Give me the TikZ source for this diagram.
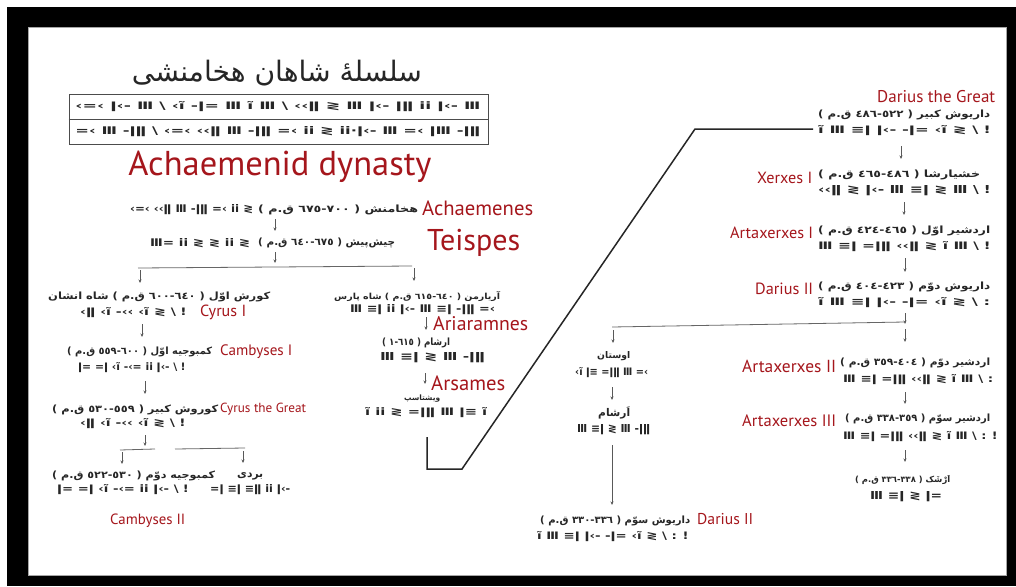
\documentclass[tikz,border=0pt]{standalone}
\usepackage{fontspec}
\usepackage{graphicx}
\usetikzlibrary{arrows.meta}
\TeXXeTstate=1
\setmainfont{PT Sans}
\newfontfamily\fafont[Script=Arabic]{DejaVu Sans}
\newfontfamily\cufont{DejaVu Sans}
\definecolor{lblred}{HTML}{A5161C}
\newcommand\FA[2]{\resizebox*{#1pt}{10pt}{\fafont\bfseries #2}}
\newcommand\FW[2]{\resizebox{#1pt}{!}{\fafont\bfseries #2}}
\newcommand\CU[2]{\resizebox{#1pt}{8pt}{\cufont\bfseries #2}}
\newcommand\LB[2]{\resizebox{#1pt}{!}{#2}}
\newcommand\bs{\textbackslash}
\newcommand\tk[4]{\coordinate (#1a) at (#2,#3); \coordinate (#1b) at (#2,#4); \draw[tick] (#1a) -- (#1b);}
\begin{document}
\begin{tikzpicture}[x=1pt,y=-1pt,
  lbl/.style={text=lblred,inner sep=0pt},
  txt/.style={inner sep=0pt,text=black!85},
  tick/.style={draw=black!65,line width=0.7pt,-{Stealth[length=3.5pt,width=3pt]}},
  rulel/.style={draw=black!60,line width=0.8pt},
  bigline/.style={draw=black!85,line width=1.5pt}]
\useasboundingbox (0,0) rectangle (1016,586);
\fill[black] (7,7) rectangle (1016,586);
\fill[white] (28,28) rectangle (1006,575);
\draw[black!35,line width=1pt] (28,28) rectangle (1006,575);

% title and table
\node[txt] (title) at (277,73) {\resizebox{290pt}{!}{\fafont\beginR سلسلهٔ شاهان هخامنشی\endR}};
\node[draw=black!70,line width=0.9pt,minimum width=419pt,minimum height=50pt,inner sep=0pt] (tab) at (278.5,119) {};
\draw[black!70,line width=0.9pt] (tab.west) -- (tab.east);
\node[txt] (tr1) at (278,106.5) {\CU{405}{‹=‹ ǀ‹- Ⅲ \bs{} ‹ĩ -ǀ= Ⅲ ĩ Ⅲ \bs{} ‹‹ǁ ≷ Ⅲ ǀ‹- ǀǁ ii ǀ‹- Ⅲ}};
\node[txt] (tr2) at (278,131.5) {\CU{405}{=‹ Ⅲ -ǀǁ \bs{} ‹=‹ ‹‹ǁ Ⅲ -ǀǁ =‹ ii ≷ ii·ǀ‹- Ⅲ =‹ ǀⅢ -ǀǁ}};
\node[lbl] (dyn) at (280,167) {\LB{303}{Achaemenid dynasty}};

% Achaemenes, Teispes
\node[txt,anchor=west] (c-ach) at (130,210) {\CU{123}{‹=‹ ‹‹ǁ Ⅲ -ǀǁ =‹ ii ≷}};
\node[txt,anchor=west] (p-ach) at (258,210) {\FA{160}{\beginR هخامنش ( ٧٠٠-٦٧٥ ق.م )\endR}};
\node[lbl,anchor=west] (l-ach) at (422,208) {\LB{111}{Achaemenes}};
\tk{t1}{275}{219}{231}
\node[txt,anchor=west] (c-tei) at (150,243) {\CU{100}{Ⅲ= ii ≷ ≷ ii ≷}};
\node[txt,anchor=west] (p-tei) at (258,243) {\FA{137}{\beginR چیش^^^^200cپیش ( ٦٧٥-٦٤٠ ق.م )\endR}};
\node[lbl,anchor=west] (l-tei) at (427,243) {\LB{93}{Teispes}};
\tk{t2}{275}{252}{263}
\coordinate (h1a) at (138,268); \coordinate (h1b) at (412,266);
\draw[rulel] (h1a) -- (h1b);
\tk{t3}{140}{270}{283}
\tk{t4}{414}{268}{281}

% left branch
\node[txt,anchor=west] (p-cy1) at (48,297) {\FA{222}{\beginR کورش اوّل ( ٦٤٠-٦٠٠ ق.م ) شاه انشان\endR}};
\node[txt,anchor=west] (c-cy1) at (80,313) {\CU{106}{‹ǁ ‹ĩ -‹‹ ‹ĩ ≷ \bs{} ǃ}};
\node[lbl,anchor=west] (l-cy1) at (200,312) {\LB{46}{Cyrus I}};
\tk{t5}{142}{324}{337}
\node[txt,anchor=west] (p-cb1) at (67,352) {\FA{145}{\beginR کمبوجیه اوّل ( ٦٠٠-٥٥٩ ق.م )\endR}};
\node[lbl,anchor=west] (l-cb1) at (220,352) {\LB{72}{Cambyses I}};
\node[txt,anchor=west] (c-cb1) at (78,368) {\CU{107}{ǀ= =ǀ ‹ĩ -‹= ii ǀ‹- \bs{} ǃ}};
\tk{t6}{145}{381}{394}
\node[txt,anchor=west] (p-cyg) at (52,410) {\FA{166}{\beginR کوروش کبیر ( ٥٥٩-٥٣٠ ق.م )\endR}};
\node[lbl,anchor=west] (l-cyg) at (220,409) {\LB{86}{Cyrus the Great}};
\node[txt,anchor=west] (c-cyg) at (80,424) {\CU{105}{‹ǁ ‹ĩ -‹‹ ‹ĩ ≷ \bs{} ǃ}};
\tk{t7}{145}{435}{446}
\coordinate (h2a) at (120,450); \coordinate (h2b) at (155,449);
\coordinate (h2c) at (175,449); \coordinate (h2d) at (245,448);
\draw[rulel] (h2a) -- (h2b);
\draw[rulel] (h2c) -- (h2d);
\tk{t8}{122}{452}{464}
\tk{t9}{243}{451}{463}
\node[txt,anchor=west] (p-cb2) at (52,476) {\FA{163}{\beginR کمبوجیه دوّم ( ٥٣٠-٥٢٢ ق.م )\endR}};
\node[txt,anchor=west] (c-cb2) at (57,490) {\CU{131}{ǀ= =ǀ ‹ĩ -‹= ii ǀ‹- \bs{} ǃ}};
\node[txt,anchor=west] (p-bar) at (237,476) {\FW{26}{بردی}};
\node[txt,anchor=west] (c-bar) at (210,490) {\CU{80}{=ǀ ≡ǀ ≡ǁ ii ǀ‹-}};
\node[lbl,anchor=west] (l-cb2) at (110,521) {\LB{75}{Cambyses II}};

% middle branch
\node[txt,anchor=west] (p-ari) at (334,297) {\FA{166}{\beginR آریارمن ( ٦٤٠-٦١٥ ق.م ) شاه پارس\endR}};
\node[txt,anchor=west] (c-ari) at (350,310) {\CU{145}{Ⅲ ≡ǀ ii ǀ‹- Ⅲ ≡ǀ -ǀǁ =‹}};
\tk{t10}{426}{317}{330}
\node[lbl,anchor=west] (l-ari) at (433,324) {\LB{95}{Ariaramnes}};
\node[txt,anchor=west] (p-ars) at (382,343) {\FA{68}{\beginR ارشام ( ٦١٥-١ )\endR}};
\node[txt,anchor=west] (c-ars) at (380,358) {\CU{105}{Ⅲ ≡ǀ ≷ Ⅲ -ǀǁ}};
\tk{t11}{425}{373}{384}
\node[lbl,anchor=west] (l-ars) at (431,383) {\LB{74}{Arsames}};
\node[txt,anchor=west] (p-vis) at (404,399) {\FW{36}{ویشتاسپ}};
\node[txt,anchor=west] (c-vis) at (365,413) {\CU{122}{ĩ ii ≷ =ǀǁ Ⅲ ǀ≡ ĩ}};

% big connector
\coordinate (k1) at (427,437); \coordinate (k2) at (427,469);
\coordinate (k3) at (462,469); \coordinate (k4) at (695,129);
\coordinate (k5) at (813,129);
\draw[bigline] (k1) -- (k2) -- (k3) -- (k4) -- (k5);

% right column
\node[lbl,anchor=west] (l-dg) at (877,97) {\LB{118}{Darius the Great}};
\node[txt,anchor=west] (p-dg) at (818,115) {\FA{172}{\beginR داریوش کبیر ( ٥٢٢-٤٨٦ ق.م )\endR}};
\node[txt,anchor=west] (c-dg) at (818,131) {\CU{172}{ĩ Ⅲ ≡ǀ ǀ‹- -ǀ= ‹ĩ ≷ \bs{} ǃ}};
\tk{t12}{901}{146}{159}
\node[lbl,anchor=west] (l-xer) at (757,178) {\LB{55}{Xerxes I}};
\node[txt,anchor=west] (p-xer) at (818,175) {\FA{162}{\beginR خشیارشا ( ٤٨٦-٤٦٥ ق.م )\endR}};
\node[txt,anchor=west] (c-xer) at (818,191) {\CU{172}{‹‹ǁ ≷ ǀ‹- Ⅲ ≡ǀ ≷ Ⅲ \bs{} ǃ}};
\tk{t13}{904}{202}{215}
\node[lbl,anchor=west] (l-ar1) at (730,233) {\LB{83}{Artaxerxes I}};
\node[txt,anchor=west] (p-ar1) at (818,231) {\FA{172}{\beginR اردشیر اوّل ( ٤٦٥-٤٢٤ ق.م )\endR}};
\node[txt,anchor=west] (c-ar1) at (818,247) {\CU{172}{Ⅲ ≡ǀ =ǀǁ ‹‹ǁ ≷ ĩ Ⅲ \bs{} ǃ}};
\tk{t14}{905}{258}{272}
\node[lbl,anchor=west] (l-d2) at (755,289) {\LB{58}{Darius II}};
\node[txt,anchor=west] (p-d2) at (818,287) {\FA{172}{\beginR داریوش دوّم ( ٤٢٣-٤٠٤ ق.م )\endR}};
\node[txt,anchor=west] (c-d2) at (818,303) {\CU{172}{ĩ Ⅲ ≡ǀ ǀ‹- -ǀ= ‹ĩ ≷ \bs{} :}};
\tk{t15}{905}{313}{324}
\coordinate (h3a) at (612,327); \coordinate (h3b) at (905,322);
\draw[rulel] (h3a) -- (h3b);
\tk{t16}{905}{329}{342}
\tk{t17}{613}{330}{343}
\node[lbl,anchor=west] (l-a2) at (742,366) {\LB{94}{Artaxerxes II}};
\node[txt,anchor=west] (p-a2) at (840,363) {\FA{150}{\beginR اردشیر دوّم ( ٤٠٤-٣٥٩ ق.م )\endR}};
\node[txt,anchor=west] (c-a2) at (843,380) {\CU{150}{Ⅲ ≡ǀ =ǀǁ ‹‹ǁ ≷ ĩ Ⅲ \bs{} :}};
\tk{t18}{905}{392}{404}
\node[lbl,anchor=west] (l-a3) at (742,421) {\LB{94}{Artaxerxes III}};
\node[txt,anchor=west] (p-a3) at (845,419) {\FA{145}{\beginR اردشیر سوّم ( ٣٥٩-٣٣٨ ق.م )\endR}};
\node[txt,anchor=west] (c-a3) at (843,437) {\CU{154}{Ⅲ ≡ǀ =ǀǁ ‹‹ǁ ≷ ĩ Ⅲ \bs{} : ǃ}};
\tk{t19}{905}{450}{462}
\node[txt,anchor=west] (p-ase) at (855,480) {\FA{95}{\beginR اَرْشَک ( ٣٣٨-٣٣٦ ق.م )\endR}};
\node[txt,anchor=west] (c-ase) at (870,497) {\CU{72}{Ⅲ ≡ǀ ≷ ǀ=}};

% Ostanes branch
\node[txt,anchor=west] (p-ost) at (597,356) {\FW{33}{اوستان}};
\node[txt,anchor=west] (c-ost) at (575,373) {\CU{73}{‹ĩ ǀ≡ =ǀǁ Ⅲ =‹}};
\tk{t20}{612}{387}{400}
\node[txt,anchor=west] (p-ar2) at (598,413) {\FW{32}{اَرشام}};
\node[txt,anchor=west] (c-ar2) at (577,430) {\CU{73}{Ⅲ ≡ǀ ≷ Ⅲ -ǀǁ}};
\tk{t21}{612}{445}{505}
\node[lbl,anchor=west] (l-d3) at (697,519) {\LB{56}{Darius II}};
\node[txt,anchor=west] (p-d3) at (540,521) {\FA{150}{\beginR داریوش سوّم ( ٣٣٦-٣٣٠ ق.م )\endR}};
\node[txt,anchor=west] (c-d3) at (537,537) {\CU{151}{ĩ Ⅲ ≡ǀ ǀ‹- -ǀ= ‹ĩ ≷ \bs{} : ǃ}};
\end{tikzpicture}
\end{document}
